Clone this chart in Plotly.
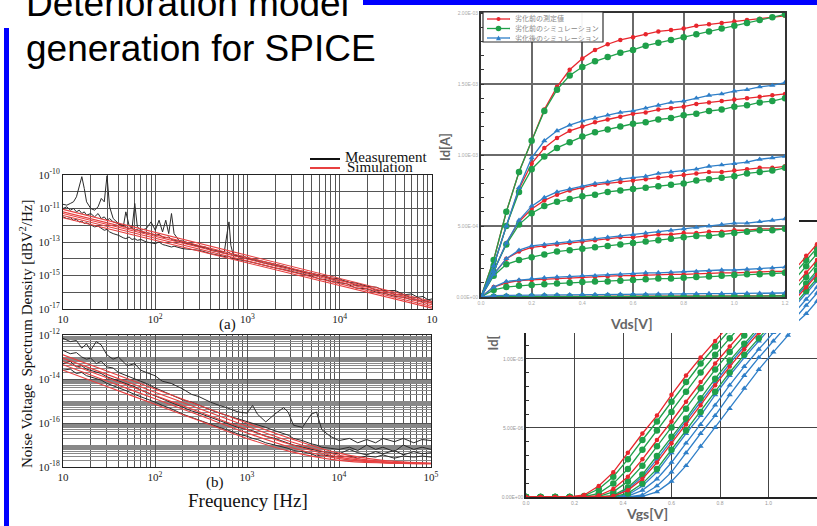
import plotly.graph_objects as go

W, H = 817, 526
def fx(p): return p / W
def fy(p): return 1 - p / H

SERIF = "Liberation Serif"
SANS = "Liberation Sans"
RED = "#e8262d"
GREEN = "#1fa04a"
BLUE = "#2f7fc8"

# ---------------- Noise spectrum (a) : exponents of 10 ----------------
freq_a = [10, 11, 12, 13, 14, 15, 16, 17, 18, 20, 22, 24, 26, 28, 30, 32, 35, 40, 45, 48,
          52, 56, 60, 64, 70, 80, 90, 100, 110, 120, 130, 140, 150, 160, 180, 200, 250, 300,
          350, 400, 500, 560, 600, 630, 660, 700, 800, 900, 1000, 1200, 1500, 2000, 2500,
          3000, 4000, 5000, 6000, 7000, 8000, 10000, 12000, 15000, 20000, 25000, 30000,
          40000, 50000, 60000, 70000, 80000, 90000, 100000]
meas_a1 = [-10.75, -10.8, -10.7, -10.6, -10.3, -9.6, -9.1, -9.8, -10.6,
           -11.0, -11.1, -10.9, -10.4, -10.6, -9.05, -10.9,
           -11.6, -11.9, -12.1, -11.2, -12.0, -12.2, -10.7, -12.1, -12.3, -12.2, -11.8,
           -12.3, -11.7, -12.4, -11.7, -12.5, -11.3, -12.5, -12.9, -12.95,
           -13.1, -13.25, -13.3, -13.45, -13.55, -13.6, -12.5, -11.8, -13.2, -13.75, -13.85, -13.85,
           -13.95, -14.05, -14.2, -14.35, -14.45, -14.6, -14.75, -14.9, -14.95, -15.05, -15.15,
           -15.2, -15.4, -15.45, -15.65, -15.7, -15.9, -15.9, -16.15, -16.1, -16.3, -16.25, -16.45, -16.4]
meas_a2 = [-11.0, -10.9, -11.1, -11.0, -11.2, -11.1, -11.3, -11.2, -11.4,
           -11.3, -11.5, -11.3, -11.6, -11.5, -11.7, -11.6,
           -11.8, -11.9, -12.0, -12.1, -12.2, -12.15, -12.3, -12.25, -12.4, -12.45, -12.5,
           -12.6, -12.55, -12.7, -12.75, -12.7, -12.85, -12.9, -12.95, -13.05,
           -13.15, -13.3, -13.35, -13.5, -13.6, -13.65, -13.7, -13.6, -13.75, -13.8, -13.85, -13.95,
           -14.0, -14.1, -14.25, -14.4, -14.5, -14.6, -14.8, -14.9, -15.0, -15.1, -15.2,
           -15.3, -15.35, -15.6, -15.65, -15.9, -15.9, -16.15, -16.15, -16.35, -16.3, -16.5, -16.45, -16.55]
meas_a3 = [-11.5, -11.6, -11.55, -11.7, -11.65, -11.8, -11.75, -11.9, -11.85,
           -12.0, -12.1, -12.05, -12.2, -12.3, -12.25, -12.4,
           -12.5, -12.6, -12.75, -12.8, -12.7, -12.85, -12.8, -12.9, -12.85, -13.0, -13.05,
           -13.1, -13.0, -13.15, -13.2, -13.25, -13.3, -13.25, -13.35, -13.4,
           -13.45, -13.5, -13.6, -13.7, -13.8, -13.85, -13.9, -13.85, -13.95, -14.0, -14.05, -14.1,
           -14.15, -14.25, -14.4, -14.55, -14.65, -14.75, -14.95, -15.05, -15.2, -15.25, -15.35,
           -15.45, -15.5, -15.75, -15.8, -16.0, -16.05, -16.25, -16.3, -16.45, -16.45, -16.6, -16.55, -16.65]
sim_freq_a = [10, 1000, 100000]
sim_a1 = [-11.05, -13.8, -16.55]
sim_a2 = [-11.2, -13.93, -16.65]
sim_a3 = [-11.3, -14.02, -16.75]
sim_a4 = [-11.42, -14.12, -16.85]
sim_a5 = [-11.55, -14.25, -16.95]

# ---------------- Noise spectrum (b) ----------------
freq_b = [10, 12, 14, 16, 18, 20, 23, 26, 30, 35, 40, 50, 60, 70, 80, 100, 120, 150, 200,
          250, 300, 400, 500, 600, 800, 1000, 1150, 1300, 1600, 2000, 2500, 2800, 3200, 4000,
          5000, 5700, 6500, 8000, 10000, 13000, 16000, 20000, 25000, 30000, 40000, 50000,
          65000, 80000, 100000]
meas_b1 = [-12.15, -12.3, -12.25, -12.6, -12.4, -12.7, -12.3, -12.45, -12.9,
           -13.1, -13.0, -13.4, -13.3, -13.6, -13.7,
           -13.85, -14.1, -14.2, -14.45, -14.7, -14.8, -15.05, -15.2, -15.3, -15.5,
           -15.55, -15.2, -15.6, -15.95, -15.6, -15.3, -15.5, -16.1, -16.2, -15.6, -15.5, -16.3, -16.6,
           -16.8, -16.7, -16.9, -16.75, -16.9, -16.7, -16.85, -16.7, -16.9, -16.75, -16.8]
meas_b2 = [-12.7, -12.85, -12.8, -13.0, -13.1, -13.05, -13.3, -13.2, -13.45,
           -13.5, -13.7, -13.85, -14.0, -14.1, -14.2,
           -14.4, -14.55, -14.7, -14.95, -15.05, -15.2, -15.4, -15.55, -15.65, -15.8,
           -15.95, -16.0, -16.1, -16.2, -16.35, -16.5, -16.55, -16.7, -16.8, -16.95, -17.0, -17.1, -17.15,
           -17.2, -17.1, -17.25, -17.0, -17.2, -17.1, -17.3, -17.0, -17.2, -17.1, -17.2]
meas_b3 = [-13.3, -13.2, -13.45, -13.4, -13.55, -13.6, -13.7, -13.75, -13.9,
           -14.0, -14.1, -14.25, -14.35, -14.5, -14.6,
           -14.75, -14.9, -15.05, -15.3, -15.45, -15.55, -15.75, -15.9, -16.0, -16.2,
           -16.3, -16.35, -16.45, -16.6, -16.7, -16.85, -16.9, -17.0, -17.1, -17.2, -17.25, -17.3, -17.35,
           -17.4, -17.2, -17.35, -17.45, -17.3, -17.4, -17.25, -17.45, -17.3, -17.4, -17.35]
meas_b4 = [-13.6, -13.55, -13.75, -13.7, -13.85, -13.9, -14.0, -14.05, -14.2,
           -14.3, -14.4, -14.55, -14.7, -14.8, -14.9,
           -15.05, -15.2, -15.35, -15.6, -15.75, -15.85, -16.05, -16.2, -16.3, -16.5,
           -16.6, -16.7, -16.75, -16.9, -17.0, -17.1, -17.15, -17.25, -17.3, -17.4, -17.5, -17.45, -17.5,
           -17.55, -17.5, -17.6, -17.5, -17.55, -17.45, -17.6, -17.5, -17.55, -17.5, -17.55]
sim_freq_b = [10, 30, 100, 300, 1000, 3000, 10000, 30000, 100000]
sim_b1 = [-12.9, -13.64, -14.45, -15.19, -16.0, -16.71, -17.37, -17.7, -17.83]
sim_b2 = [-13.05, -13.79, -14.6, -15.34, -16.15, -16.85, -17.47, -17.75, -17.83]
sim_b3 = [-13.2, -13.94, -14.75, -15.49, -16.3, -16.98, -17.55, -17.78, -17.84]
sim_b4 = [-13.35, -14.09, -14.9, -15.64, -16.45, -17.11, -17.62, -17.8, -17.845]
sim_b5 = [-13.6, -14.34, -15.15, -15.89, -16.7, -17.3, -17.7, -17.82, -17.85]

# ---------------- Id-Vds (mA) ----------------
vds = [0.0, 0.05, 0.1, 0.15, 0.2, 0.25, 0.3, 0.35, 0.4, 0.45, 0.5, 0.55, 0.6, 0.65, 0.7,
       0.75, 0.8, 0.85, 0.9, 0.95, 1.0, 1.05, 1.1, 1.15, 1.2]
id5_red = [0, .26, .60, .88, 1.10, 1.32, 1.48, 1.60, 1.68, 1.74, 1.78, 1.81, 1.83, 1.85, 1.87, 1.88, 1.89, 1.91, 1.92, 1.93, 1.94, 1.95, 1.96, 1.97, 1.98]
id5_green = [0, .26, .60, .88, 1.10, 1.31, 1.46, 1.56, 1.62, 1.66, 1.69, 1.72, 1.74, 1.77, 1.79, 1.81, 1.83, 1.85, 1.87, 1.89, 1.91, 1.93, 1.95, 1.97, 1.99]
id4_red = [0, .22, .50, .76, .94, 1.05, 1.12, 1.17, 1.20, 1.23, 1.25, 1.27, 1.29, 1.30, 1.32, 1.33, 1.34, 1.36, 1.37, 1.38, 1.39, 1.40, 1.41, 1.42, 1.43]
id4_green = [0, .22, .50, .74, .90, .99, 1.05, 1.09, 1.13, 1.16, 1.18, 1.20, 1.22, 1.23, 1.25, 1.26, 1.28, 1.29, 1.31, 1.32, 1.34, 1.35, 1.37, 1.38, 1.40]
id4_blue = [0, .22, .50, .77, .98, 1.10, 1.17, 1.21, 1.24, 1.26, 1.28, 1.30, 1.31, 1.33, 1.35, 1.37, 1.38, 1.40, 1.42, 1.43, 1.45, 1.46, 1.48, 1.49, 1.51]
id3_red = [0, .18, .38, .53, .62, .68, .72, .75, .77, .79, .80, .81, .82, .83, .84, .85, .86, .87, .88, .88, .89, .90, .91, .91, .92]
id3_green = [0, .18, .37, .51, .59, .64, .67, .69, .71, .72, .74, .75, .76, .77, .78, .79, .80, .82, .83, .84, .85, .87, .88, .89, .91]
id3_blue = [0, .18, .38, .54, .64, .70, .74, .76, .78, .80, .81, .83, .84, .85, .87, .88, .89, .90, .92, .93, .94, .95, .97, .98, .99]
id2_red = [0, .16, .27, .32, .35, .36, .37, .38, .39, .40, .41, .42, .42, .43, .44, .44, .45, .45, .46, .46, .47, .47, .48, .48, .48]
id2_green = [0, .15, .23, .26, .28, .30, .32, .33, .34, .35, .36, .37, .38, .39, .40, .41, .42, .43, .43, .44, .45, .46, .47, .47, .48]
id2_blue = [0, .16, .27, .33, .36, .37, .38, .39, .40, .41, .42, .43, .44, .45, .46, .47, .48, .49, .50, .51, .52, .52, .53, .54, .55]
id1_red = [0, .07, .10, .115, .12, .125, .13, .135, .14, .14, .145, .15, .15, .155, .155, .16, .16, .165, .165, .17, .17, .175, .175, .18, .18]
id1_green = [0, .05, .07, .08, .085, .09, .095, .10, .105, .11, .11, .115, .12, .125, .13, .13, .135, .14, .145, .15, .155, .16, .16, .165, .17]
id1_blue = [0, .07, .11, .12, .13, .135, .14, .145, .15, .15, .155, .16, .165, .17, .17, .175, .18, .18, .185, .19, .19, .195, .20, .205, .21]
id0_red = [0, .002, .003, .003, .004, .004, .004, .005, .005, .005, .005, .006, .006, .006, .006, .007, .007, .007, .007, .008, .008, .008, .008, .009, .009]
id0_green = [0, .002, .002, .003, .003, .003, .004, .004, .004, .004, .005, .005, .005, .005, .005, .006, .006, .006, .006, .006, .007, .007, .007, .007, .007]
id0_blue = [0, .010, .012, .013, .014, .015, .016, .016, .017, .018, .018, .019, .020, .020, .021, .022, .022, .023, .024, .024, .025, .026, .026, .027, .028]

# ---------------- Id-Vgs (uA) ----------------
vgs = [0.0, 0.06, 0.12, 0.18, 0.24, 0.30, 0.36, 0.42, 0.48, 0.54, 0.60, 0.66, 0.72, 0.78,
       0.84, 0.90, 0.96, 1.02, 1.08, 1.14]
vgs_red1 = [0, 0, 0, 0, 0.15, 0.8, 1.8, 3.2, 4.6, 5.9, 7.4, 8.8, 10.1, 11.3, 12.5]
vgs_red2 = [0, 0, 0, 0, 0, 0.1, 0.58, 1.47, 2.73, 4.13, 5.47, 6.9, 8.33, 9.67, 10.9, 12.1]
vgs_red3 = [0, 0, 0, 0, 0, 0, 0.07, 0.48, 1.3, 2.5, 3.9, 5.25, 6.65, 8.1, 9.45, 10.7, 11.9, 13.1]
vgs_green1 = [0, 0, 0, 0, 0.08, 0.58, 1.47, 2.73, 4.13, 5.47, 6.9, 8.33, 9.67, 10.9, 12.1]
vgs_green2 = [0, 0, 0, 0, 0.02, 0.26, 0.97, 2.03, 3.43, 4.82, 6.15, 7.63, 9.02, 10.3, 11.5, 12.7]
vgs_green3 = [0, 0, 0, 0, 0, 0.05, 0.37, 1.13, 2.27, 3.67, 5.03, 6.4, 7.87, 9.23, 10.5, 11.7, 12.9]
vgs_green4 = [0, 0, 0, 0, 0, 0.01, 0.12, 0.69, 1.63, 2.97, 4.37, 5.68, 7.15, 8.57, 9.88, 11.1, 12.3]
vgs_green5 = [0, 0, 0, 0, 0, 0, 0.02, 0.26, 0.97, 2.03, 3.43, 4.82, 6.15, 7.63, 9.02, 10.3, 11.5, 12.7]
vgs_blue1 = [0, 0, 0, 0, 0, 0, 0.05, 0.58, 1.47, 2.73, 4.13, 5.47, 6.9, 8.33, 9.67, 10.9, 12.1]
vgs_blue2 = [0, 0, 0, 0, 0, 0, 0, 0.15, 0.8, 1.8, 3.2, 4.6, 5.9, 7.4, 8.8, 10.1, 11.3, 12.5]
vgs_blue3 = [0, 0, 0, 0, 0, 0, 0, 0.07, 0.48, 1.3, 2.5, 3.9, 5.25, 6.65, 8.1, 9.45, 10.7, 11.9, 13.1]
vgs_blue4 = [0, 0, 0, 0, 0, 0, 0, 0, 0.15, 0.8, 1.8, 3.2, 4.6, 5.9, 7.4, 8.8, 10.1, 11.3, 12.5]
vgs_blue5 = [0, 0, 0, 0, 0, 0, 0, 0, 0.05, 0.37, 1.13, 2.27, 3.67, 5.03, 6.4, 7.87, 9.23, 10.5, 11.7, 12.9]

legend_labels = ["劣化前の測定値", "劣化前のシミュレーション", "劣化後のシミュレーション"]
noise_xticks = [10, 100, 1000, 10000, 100000]
noise_xtext_a = ["10", "10<sup>2</sup>", "10<sup>3</sup>", "10<sup>4</sup>", "10"]
noise_xtext_b = ["10", "10<sup>2</sup>", "10<sup>3</sup>", "10<sup>4</sup>", "10<sup>5</sup>"]
noise_yticks_a = [1e-17, 1e-15, 1e-13, 1e-11, 1e-9]
noise_ytext_a = ["10<sup>-17</sup>", "10<sup>-15</sup>", "10<sup>-13</sup>", "10<sup>-11</sup>", "10<sup>-10</sup>"]
noise_yticks_b = [1e-18, 1e-16, 1e-14, 1e-12]
noise_ytext_b = ["10<sup>-18</sup>", "10<sup>-16</sup>", "10<sup>-14</sup>", "10<sup>-12</sup>"]

def p10(lst):
    return [10 ** v for v in lst]

fig = go.Figure()

# ---- noise traces
for m in [meas_a3, meas_a2, meas_a1]:
    fig.add_trace(go.Scatter(x=freq_a, y=p10(m), mode="lines", line=dict(color="#2b2b2b", width=1),
                             xaxis="x", yaxis="y", showlegend=False))
for s in [sim_a1, sim_a2, sim_a3, sim_a4, sim_a5]:
    fig.add_trace(go.Scatter(x=sim_freq_a, y=p10(s), mode="lines", line=dict(color="#e84040", width=1.1),
                             xaxis="x", yaxis="y", showlegend=False))
for m in [meas_b4, meas_b3, meas_b2, meas_b1]:
    fig.add_trace(go.Scatter(x=freq_b, y=p10(m), mode="lines", line=dict(color="#2b2b2b", width=1),
                             xaxis="x2", yaxis="y2", showlegend=False))
for s in [sim_b1, sim_b2, sim_b3, sim_b4, sim_b5]:
    fig.add_trace(go.Scatter(x=sim_freq_b, y=p10(s), mode="lines", line=dict(color="#e84040", width=1.1, shape="spline"),
                             xaxis="x2", yaxis="y2", showlegend=False))

def add_iv(xs, ys, color, kind, xa, ya, scale):
    sym = {"r": "circle", "g": "circle", "b": "triangle-up"}[kind]
    size = {"r": 4.5, "g": 6.5, "b": 5.5}[kind]
    fig.add_trace(go.Scatter(x=xs[:len(ys)], y=[v * scale for v in ys], mode="lines+markers",
                             line=dict(color=color, width=1.3),
                             marker=dict(symbol=sym, size=size, color=color),
                             xaxis=xa, yaxis=ya, showlegend=False))

for r in [id5_red, id4_red, id3_red, id2_red, id1_red, id0_red]:
    add_iv(vds, r, RED, "r", "x3", "y3", 1e-3)
for g in [id5_green, id4_green, id3_green, id2_green, id1_green, id0_green]:
    add_iv(vds, g, GREEN, "g", "x3", "y3", 1e-3)
for b in [id4_blue, id3_blue, id2_blue, id1_blue, id0_blue]:
    add_iv(vds, b, BLUE, "b", "x3", "y3", 1e-3)

for xa, ya in [("x4", "y4"), ("x5", "y5")]:
    for b in [vgs_blue5, vgs_blue4, vgs_blue3, vgs_blue2, vgs_blue1]:
        add_iv(vgs, b, BLUE, "b", xa, ya, 1e-6)
    for g in [vgs_green5, vgs_green4, vgs_green3, vgs_green2, vgs_green1]:
        add_iv(vgs, g, GREEN, "g", xa, ya, 1e-6)
    for r in [vgs_red3, vgs_red2, vgs_red1]:
        add_iv(vgs, r, RED, "r", xa, ya, 1e-6)

# ---------------- axes ----------------
noise_grid = dict(showgrid=True, gridcolor="#555", gridwidth=1, showline=True, linecolor="#222",
                  linewidth=1, mirror=True, ticks="", zeroline=False,
                  tickfont=dict(family=SERIF, size=11, color="#222"))
fig.update_layout(
    xaxis=dict(domain=[fx(63), fx(432)], anchor="y", type="log", range=[1, 5],
               tickmode="array", tickvals=noise_xticks, ticktext=noise_xtext_a,
               minor=dict(dtick="D1", showgrid=True, gridcolor="#555", gridwidth=1), **noise_grid),
    yaxis=dict(domain=[fy(309), fy(175)], anchor="x", type="log", range=[-17, -9],
               tickmode="array", tickvals=noise_yticks_a, ticktext=noise_ytext_a,
               minor=dict(dtick=1, showgrid=True, gridcolor="#555", gridwidth=1), **noise_grid),
    xaxis2=dict(domain=[fx(63), fx(431)], anchor="y2", type="log", range=[1, 5],
                tickmode="array", tickvals=noise_xticks, ticktext=noise_xtext_b,
                minor=dict(dtick="D1", showgrid=True, gridcolor="#555", gridwidth=1), **noise_grid),
    yaxis2=dict(domain=[fy(467), fy(335)], anchor="x2", type="log", range=[-18, -12],
                tickmode="array", tickvals=noise_yticks_b, ticktext=noise_ytext_b,
                minor=dict(dtick="D1", showgrid=True, gridcolor="#888", gridwidth=1), **noise_grid),
    xaxis3=dict(domain=[fx(481), fx(785)], anchor="y3", range=[0, 1.2], tickmode="array",
                tickvals=[0, 0.2, 0.4, 0.6, 0.8, 1.0, 1.2],
                ticktext=["0.0", "0.2", "0.4", "0.6", "0.8", "1.0", "1.2"],
                showgrid=True, gridcolor="#6a6a6a", gridwidth=1.5, showline=True, linecolor="#333",
                linewidth=2, mirror=True, zeroline=False, ticks="",
                tickfont=dict(family=SANS, size=5, color="#aaa")),
    yaxis3=dict(domain=[fy(297), fy(13)], anchor="x3", range=[0, 2e-3], tickmode="array",
                tickvals=[0, 5e-4, 1e-3, 1.5e-3, 2e-3],
                ticktext=["0.00E+00", "5.00E-04", "1.00E-03", "1.50E-03", "2.00E-03"],
                showgrid=True, gridcolor="#6a6a6a", gridwidth=1.5, showline=True, linecolor="#333",
                linewidth=2, mirror=True, zeroline=False, ticks="",
                minor=dict(ticks="inside", ticklen=3, dtick=1e-4, tickcolor="#333"),
                tickfont=dict(family=SANS, size=5, color="#aaa")),
    xaxis4=dict(domain=[fx(526), 1.0], anchor="y4", range=[0, 1.2], tickmode="array",
                tickvals=[0, 0.2, 0.4, 0.6, 0.8, 1.0, 1.2],
                ticktext=["0.0", "0.2", "0.4", "0.6", "0.8", "1.0", "1.2"],
                showgrid=True, gridcolor="#444", gridwidth=1, showline=True, linecolor="#222",
                linewidth=1.5, zeroline=False, ticks="",
                tickfont=dict(family=SANS, size=5, color="#999")),
    yaxis4=dict(domain=[fy(497), fy(333)], anchor="x4", range=[0, 1.188e-5], tickmode="array",
                tickvals=[0, 5e-6, 1e-5], ticktext=["0.00E+00", "5.00E-06", "1.00E-05"],
                showgrid=True, gridcolor="#444", gridwidth=1, showline=True, linecolor="#222",
                linewidth=1.5, zeroline=False, ticks="",
                minor=dict(ticks="inside", ticklen=3, dtick=1e-6, tickcolor="#333"),
                tickfont=dict(family=SANS, size=5, color="#999")),
    xaxis5=dict(domain=[fx(799), 1.0], anchor="y5", range=[0.62, 0.72], side="top",
                showgrid=False, showline=True, linecolor="#222", linewidth=1.5,
                showticklabels=False, ticks="", zeroline=False),
    yaxis5=dict(domain=[fy(325), fy(222)], anchor="x5", range=[1e-6, 12.6e-6],
                showticklabels=False, showgrid=False, showline=False, ticks="", zeroline=False),
)
fig.update_xaxes(automargin=False)
fig.update_yaxes(automargin=False)

# ---------------- text ----------------
anns = []
def ann(text, x, y, size, color="#000", family=SERIF, xanchor="center", yanchor="middle", angle=0):
    anns.append(dict(text=text, x=fx(x), y=fy(y), xref="paper", yref="paper", showarrow=False,
                     xanchor=xanchor, yanchor=yanchor, textangle=angle,
                     font=dict(family=family, size=size, color=color)))

ann("Deterioration model", 24, 4, 37, family=SANS, xanchor="left")
ann("generation for SPICE", 24, 49, 37, family=SANS, xanchor="left")
ann("Measurement", 343, 157, 15, color="#111", xanchor="left")
ann("Simulation", 345, 167.5, 15, color="#111", xanchor="left")
ann("(a)", 227, 324, 15, color="#111")
ann("(b)", 215, 482, 15, color="#111")
ann("Frequency [Hz]", 248, 500.5, 19, color="#111")
ann("Noise Voltage  Spectrum Density [dBV<sup>2</sup>/Hz]", 26, 334, 15, color="#111", angle=-90)
ann("<b>Id[A]</b>", 445, 147, 13, color="#666", family="Lato", angle=-90)
ann("<b>Vds[V]</b>", 631, 323.5, 14, color="#666", family="Lato")
ann("<b>Vgs[V]</b>", 647, 513.5, 14, color="#666", family="Lato")
ann("<b>Id[</b>", 492, 333, 13, color="#666", family="Lato", yanchor="top", angle=-90)
for i, lab in enumerate(legend_labels):
    ann(lab, 513, 18.5 + 9.5 * i, 7, color="#888", family="Noto Sans CJK JP", xanchor="left")

# ---------------- shapes ----------------
shapes = []
def rect(x0, y0, x1, y1, fill, line_color=None, lw=0):
    shapes.append(dict(type="rect", xref="paper", yref="paper", x0=fx(x0), x1=fx(x1),
                       y0=fy(y1), y1=fy(y0), fillcolor=fill,
                       line=dict(color=line_color or fill, width=lw), layer="above"))
def seg(x0, y0, x1, y1, color, w):
    shapes.append(dict(type="line", xref="paper", yref="paper", x0=fx(x0), x1=fx(x1),
                       y0=fy(y0), y1=fy(y1), line=dict(color=color, width=w), layer="above"))

rect(363, 0, 817, 5, "#0000ff")
rect(4, 28, 9, 526, "#0000ff")
seg(310, 159, 340, 159, "#111", 2)
seg(310, 168, 340, 168, "#e84040", 2)
rect(483, 12, 603, 42, "rgba(255,255,255,0.95)", "#333", 1.2)
leg_cols = [RED, GREEN, BLUE]
for i, c in enumerate(leg_cols):
    yy = 19 + 9.5 * i
    seg(487, yy, 510, yy, c, 1.3)
    if i < 2:
        r = 2 if i == 0 else 2.8
        shapes.append(dict(type="circle", xref="paper", yref="paper", x0=fx(498.5 - r), x1=fx(498.5 + r),
                           y0=fy(yy + r), y1=fy(yy - r), fillcolor=c, line=dict(color=c, width=0),
                           layer="above"))
    else:
        path = "M {} {} L {} {} L {} {} Z".format(fx(496), fy(yy + 2.2), fx(501), fy(yy + 2.2), fx(498.5), fy(yy - 2.6))
        shapes.append(dict(type="path", xref="paper", yref="paper", path=path, fillcolor=c,
                           line=dict(color=c, width=0), layer="above"))

fig.update_layout(
    width=W, height=H, margin=dict(l=0, r=0, t=0, b=0, autoexpand=False),
    paper_bgcolor="white", plot_bgcolor="white",
    showlegend=False, annotations=anns, shapes=shapes,
)

fig.write_html("out.html", config={"displayModeBar": False},
               post_script="document.body.style.margin='0px';document.body.style.overflow='hidden';")
